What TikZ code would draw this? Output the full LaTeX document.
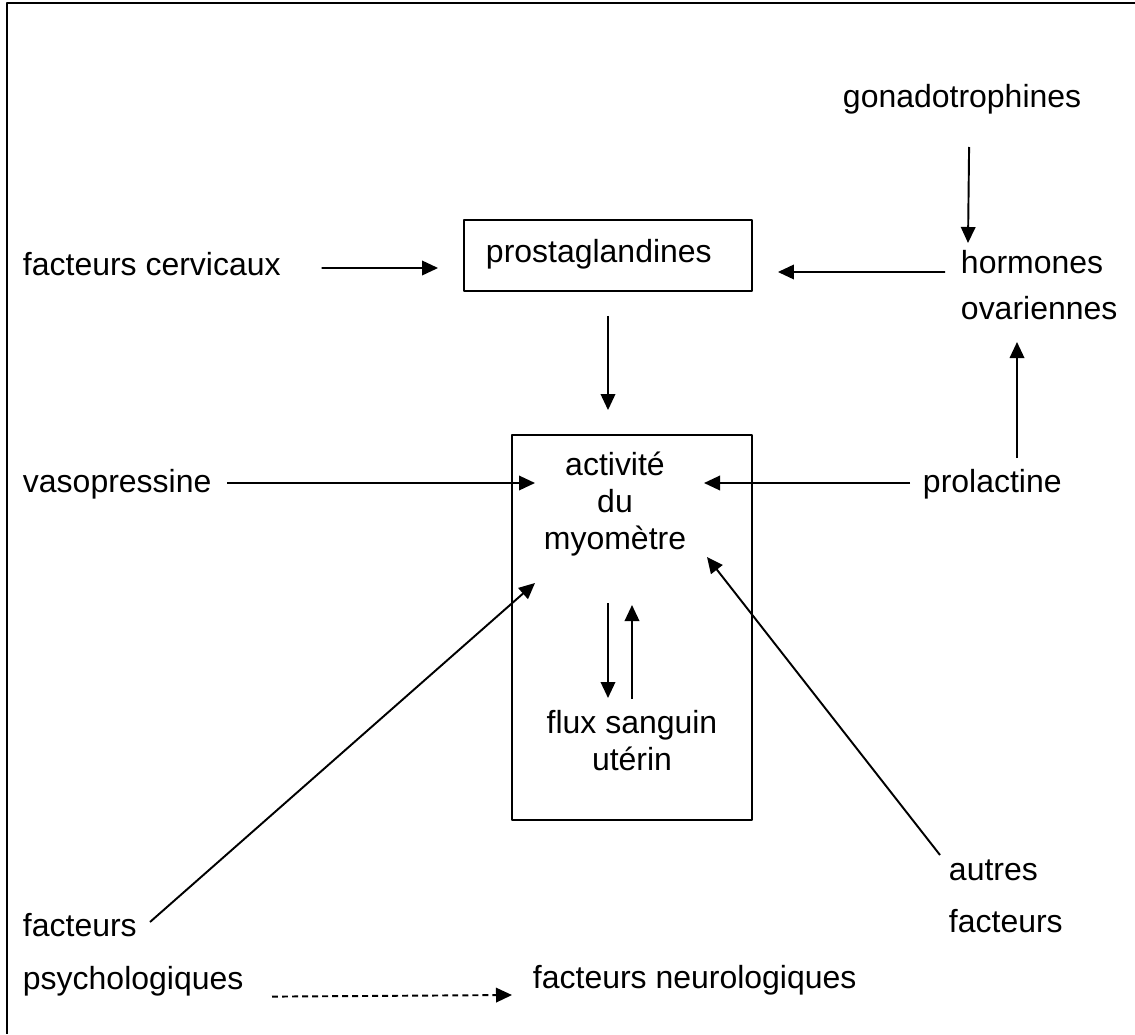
\documentclass[tikz,border=0pt]{standalone}
\usepackage{fontspec}
\setmainfont{Liberation Sans}
\usetikzlibrary{arrows.meta,calc}

\begin{document}
\begin{tikzpicture}[x=0.02cm,y=-0.02cm,>={Triangle[length=0.32cm,width=0.29cm]},
	font=\fontsize{18.2}{21}\selectfont, line width=1.1pt, line join=round,
	lbl/.style={inner sep=0pt},
	boite/.style={draw,inner sep=0pt}]
	\useasboundingbox (0,0) rectangle (1135,1034);
	\draw[line width=1.3pt] (1135,3)--(7,3)--(7,1034);
	% boxes
	\node[boite,minimum width=5.76cm,minimum height=1.42cm] (prostabox) at (608,255.5) {};
	\node[boite,minimum width=4.8cm,minimum height=7.7cm] (myobox) at (632,627.5) {};
	% labels
	\node[lbl,anchor=base west] (prosta) at (485,262) {prostaglandines};
	\node[lbl,anchor=base west] (gonado) at (842,108) {gonadotrophines};
	\node[lbl,anchor=north west,align=left] (horm) at (960,249) {hormones\\[0.18cm]ovariennes};
	\node[lbl,anchor=base west] (cerv) at (22,275) {facteurs cervicaux};
	\node[lbl,anchor=base west] (vaso) at (22,492) {vasopressine};
	\node[lbl,anchor=base west] (prol) at (922,492) {prolactine};
	\node[lbl,anchor=north,align=center] (myo) at (615,451) {activité\\du\\myomètre};
	\node[lbl,anchor=north,align=center] (flux) at (632,709) {flux sanguin\\utérin};
	\node[lbl,anchor=north west,align=left] (autres) at (948,859) {autres\\[0.3cm]facteurs};
	\node[lbl,anchor=north west,align=left] (psy) at (22,912) {facteurs\\[0.32cm]psychologiques};
	\node[lbl,anchor=base west] (neuro) at (532,988) {facteurs neurologiques};
	% arrows
	\draw[->] ($(gonado.base)+(7,39)$)--($(horm.north west)+(8,-6)$);
	\draw[->] ($(horm.north west)+(-15,23)$)--($(prostabox.east)+(25,16.5)$);
	\draw[->] ($(cerv.base east)+(40,-7)$)--($(prostabox.west)+(-25,12.5)$);
	\draw[->] ($(prostabox.south)+(0,24)$)--($(myobox.north)+(-24,-24)$);
	\draw[->] ($(vaso.base east)+(15,-9)$)--($(myo.north)+(-80,32)$);
	\draw[->] ($(prol.base west)+(-12,-9)$)--($(myo.north)+(89,32)$);
	\draw[->] ($(prol.base west)+(95,-34)$)--($(horm.north west)+(57,93)$);
	\draw[->] ($(myo.north)+(-7,152)$)--($(flux.north)+(-24,-11)$);
	\draw[->] ($(flux.north)+(0,-10)$)--($(myo.north)+(17,154)$);
	\draw[->] ($(autres.north west)+(-8,-4)$)--($(myo.north)+(92,106)$);
	\draw[->] ($(psy.north west)+(128,10)$)--($(myo.north)+(-80,132)$);
	\draw[->,dash pattern=on 3.4pt off 2.3pt] ($(psy.south west)+(250,0)$)--($(neuro.base west)+(-20,7)$);
\end{tikzpicture}
\end{document}
